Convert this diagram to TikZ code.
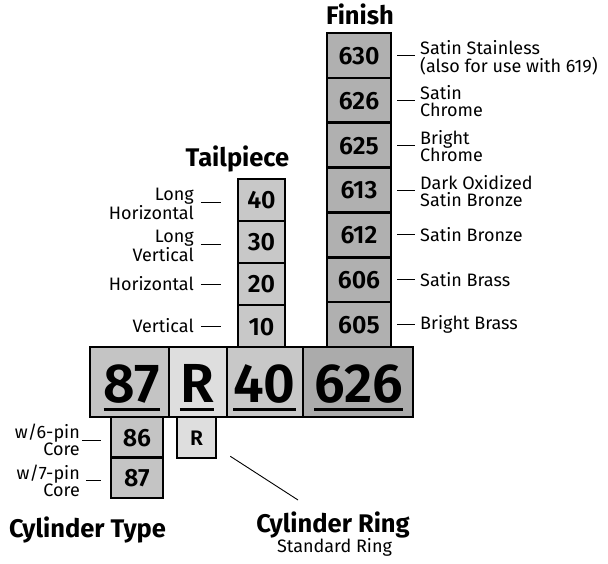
\documentclass[tikz,border=0pt]{standalone}
\usepackage{fontspec}
\setmainfont{Fira Sans}
\newfontfamily\numfont{Fira Sans SemiBold}
\definecolor{gmain}{HTML}{C4C4C4}
\definecolor{glight}{HTML}{DEDEDE}
\definecolor{gtail}{HTML}{C8C8C8}
\definecolor{gdark}{HTML}{ABABAB}
\definecolor{gfin}{HTML}{B0B0B0}
\begin{document}
\begin{tikzpicture}[x=1pt,y=-1pt,
  cell/.style={draw=black, line width=2.5pt, inner sep=0pt},
  num/.style={inner sep=0pt, anchor=base, font=\fontsize{25}{25}\numfont},
  bignum/.style={inner sep=0pt, anchor=base, font=\fontsize{55}{55}\numfont},
  uline/.style={line width=3pt},
  lblL/.style={inner sep=0pt, anchor=east, align=right, font=\fontsize{18}{17.5}\selectfont},
  lblR/.style={inner sep=0pt, anchor=west, align=left, font=\fontsize{18}{17.5}\selectfont},
  tick/.style={line width=0.9pt},
  title/.style={inner sep=0pt, anchor=base, font=\fontsize{25.5}{25.5}\selectfont\bfseries},
]
\useasboundingbox (0,0) rectangle (608,564);

% ---------- Finish column ----------
\foreach \n/\c/\t in {f630/55.4/630, f626/100.3/626, f625/145.2/625, f613/190.0/613, f612/234.9/612, f606/279.8/606, f605/324.6/605}{
  \node[cell, fill=gfin, minimum width=64pt, minimum height=44.86pt] (\n) at (359,\c) {};
  \node[num] at ([yshift=-9pt]\n.center) {\t};
}
% ---------- Tailpiece column ----------
\foreach \n/\c/\t in {t40/200/40, t30/242/30, t20/284/20, t10/326/10}{
  \node[cell, fill=gtail, minimum width=47pt, minimum height=42pt] (\n) at (261.5,\c) {};
  \node[num] at ([yshift=-9pt]\n.center) {\t};
}
% ---------- Cylinder type column ----------
\foreach \n/\c/\t in {c86/437.3/86, c87/477.8/87}{
  \node[cell, fill=gmain, minimum width=52pt, minimum height=40.5pt] (\n) at (137,\c) {};
  \node[num] at ([yshift=-9pt]\n.center) {\t};
}
% ---------- Ring box ----------
\node[cell, fill=glight, minimum width=39pt, minimum height=41pt] (rsmall) at (196.5,437.5) {};
\node[inner sep=0pt, anchor=base, font=\fontsize{21}{21}\numfont] at ([yshift=-7.5pt]rsmall.center) {R};

% ---------- Main bar ----------
\node[cell, fill=gmain, minimum width=79pt, minimum height=70pt] (m87) at (129.5,382) {};
\node[cell, fill=glight, minimum width=58pt, minimum height=70pt] (mR) at (198,382) {};
\node[cell, fill=gtail, minimum width=76pt, minimum height=70pt] (m40) at (265,382) {};
\node[cell, fill=gdark, minimum width=110pt, minimum height=70pt] (m626) at (358,382) {};
\node[bignum] (x87) at (132,402) {87};
\node[bignum] (xR) at (197,402) {R};
\node[bignum] (x40) at (264.5,402) {40};
\node[bignum] (x626) at (358.5,402) {626};
\foreach \t in {x87,xR,x40,x626}{
  \draw[uline] ([yshift=-7pt]\t.base west) -- ([yshift=-7pt]\t.base east);
}

% ---------- Titles ----------
\node[title] (ttfin) at (360,25) {Finish};
\node[title] (tttail) at (237.5,167) {Tailpiece};
\node[title] (ttcyl) at (87.5,537) {Cylinder Type};
\node[title] (ttring) at (333,532) {Cylinder Ring};
\node[inner sep=0pt, anchor=base, font=\fontsize{18}{18}\selectfont] (ttstd) at (334.5,552) {Standard Ring};

% ---------- Tailpiece labels ----------
\node[lblL] (l40) at (194,204) {Long\\Horizontal};
\node[lblL] (l30) at (194,246) {Long\\Vertical};
\node[lblL] (l20) at (194,284) {Horizontal};
\node[lblL] (l10) at (194,326) {Vertical};
\foreach \n/\d in {t40/-2pt, t30/-2pt, t20/0pt, t10/0pt}{
  \draw[tick] ([xshift=-36pt,yshift=\d]\n.west) -- ([xshift=-16pt,yshift=\d]\n.west);
}

% ---------- Finish labels ----------
\node[lblR] (lf630) at (420,58) {Satin Stainless\\(also for use with 619)};
\node[lblR] (lf626) at (420,101) {Satin\\Chrome};
\node[lblR] (lf625) at (420,146) {Bright\\Chrome};
\node[lblR] (lf613) at (420,191) {Dark Oxidized\\Satin Bronze};
\node[lblR] (lf612) at (420,234.9) {Satin Bronze};
\node[lblR] (lf606) at (420,279.8) {Satin Brass};
\node[lblR] (lf605) at (420,324.6) {Bright Brass};
\foreach \n in {f630,f626,f625,f613,f612,f606,f605}{
  \draw[tick, shorten <=5pt] (\n.east) -- ++(23,0);
}

% ---------- Cylinder type labels ----------
\node[lblL] (lc86) at (80,440) {w/6-pin\\Core};
\node[lblL] (lc87) at (80,481) {w/7-pin\\Core};
\draw[tick] ([xshift=-28pt,yshift=-2.7pt]c86.west) -- ([xshift=-9pt,yshift=-2.7pt]c86.west);
\draw[tick] ([xshift=-24pt,yshift=-2.2pt]c87.west) -- ([xshift=-9pt,yshift=-2.2pt]c87.west);

% ---------- Ring pointer ----------
\coordinate (ringtip) at (298,500);
\draw[line width=0.9pt] ([shift={(13pt,3pt)}]rsmall.south east) -- (ringtip);
\end{tikzpicture}
\end{document}
